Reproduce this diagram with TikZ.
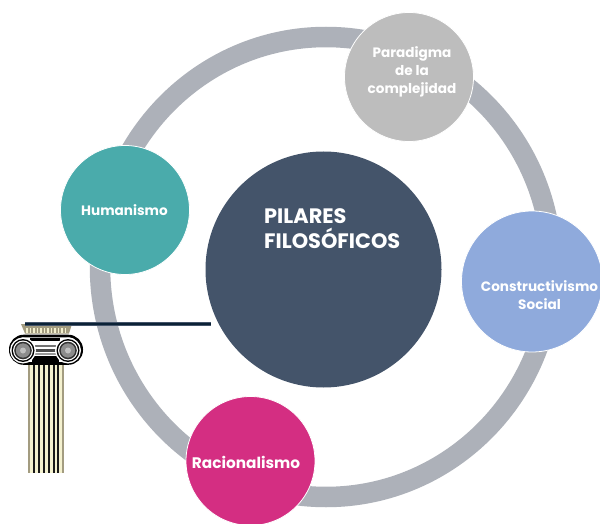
\documentclass[tikz,border=0pt]{standalone}
\usepackage{fontspec}
\setmainfont{Poppins}
\definecolor{ringc}{HTML}{ADB1B9}
\definecolor{hubc}{HTML}{44546A}
\definecolor{tealc}{HTML}{4AABAB}
\definecolor{greyc}{HTML}{BDBDBD}
\definecolor{bluec}{HTML}{8FAADC}
\definecolor{pinkc}{HTML}{D42E82}
\definecolor{creamc}{HTML}{F4F1CF}
\definecolor{tanc}{HTML}{A39C80}
\definecolor{beamc}{HTML}{0B2236}
\tikzset{
  bubble/.style={circle,draw=white,line width=.8pt,inner sep=0pt,text=white,align=center},
  smalltext/.style={inner sep=0pt,text=white,align=center,font=\bfseries\fontsize{13.6}{18.3}\selectfont},
}
\begin{document}
\begin{tikzpicture}[x=1pt,y=-1pt]
\useasboundingbox (0,0) rectangle (600,524);
\fill[white] (0,0) rectangle (600,524);
% ring
\draw[draw=ringc,line width=20.5pt] (326,267) ellipse (226 and 230);
% hub and satellites
\node[circle,fill=hubc,minimum size=236pt,inner sep=0pt] (hub) at (323.5,269.5) {};
\node[anchor=north west,inner sep=0pt,text=white,align=left,font=\bfseries\fontsize{20.9}{25}\selectfont] (hubtext) at (264,208) {PILARES\\FILOSÓFICOS};
\node[bubble,fill=greyc,minimum size=129pt] (par) at (409,77) {};
\node[smalltext] (partext) at (412,72) {Paradigma\\de la\\complejidad};
\node[bubble,fill=tealc,minimum size=129pt] (hum) at (125,210) {};
\node[smalltext] (humtext) at (124.5,210) {Humanismo};
\node[bubble,fill=bluec,minimum size=141pt] (con) at (532,281.5) {};
\node[smalltext] (context) at (539.5,295) {Constructivismo\\Social};
\node[bubble,fill=pinkc,minimum size=129pt] (rac) at (250.5,461) {};
\node[smalltext,font=\bfseries\fontsize{15.3}{18}\selectfont] (ractext) at (246,462) {Racionalismo};
% column shaft
\fill[creamc] (28,364) rectangle (63.5,473);
\foreach \xx in {33,38,43,47.5,52.5,57}{
  \fill[black!90] (\xx,364) rectangle (\xx+2.1,473);
}
\fill[tanc] (28,364) rectangle (29.6,473);
\fill[tanc] (62,364) rectangle (63.6,473);
% column capital
\fill[tanc] (21,324) -- (72,324) -- (69,333.5) -- (25,333.5) -- cycle;
\foreach \xx in {26,29.5,...,66}{
  \fill[creamc] (\xx,328) rectangle (\xx+1.5,333);
}
\draw[black,line width=2.6pt,fill=white,rounded corners=13.5pt] (10.3,336) rectangle (81.7,363.5);
\fill[black] (30,338) rectangle (60,341);
\fill[black!55] (33,345) rectangle (58,347);
\fill[black!70] (33,349) rectangle (58,352);
\fill[black!40] (33,353) rectangle (58,355);
\fill[black] (32,356) rectangle (59,364);
\foreach \cx in {23,68}{
  \fill[white] (\cx,350.5) circle (13);
  \fill[black] (\cx,350.5) circle (11.5);
  \fill[white] (\cx,350.5) circle (10);
  \fill[black!80] (\cx,350.5) circle (8.8);
  \fill[black!45] (\cx,350.5) circle (7.2);
  \fill[black!25] (\cx,350.5) circle (3);
}
% beam
\coordinate (beamL) at (25,324);
\coordinate (beamR) at (210.5,324);
\draw[hubc,line width=3.6pt] (beamL) -- (beamR);
\draw[beamc,line width=2.4pt] (beamL) -- (beamR);
\end{tikzpicture}
\end{document}
